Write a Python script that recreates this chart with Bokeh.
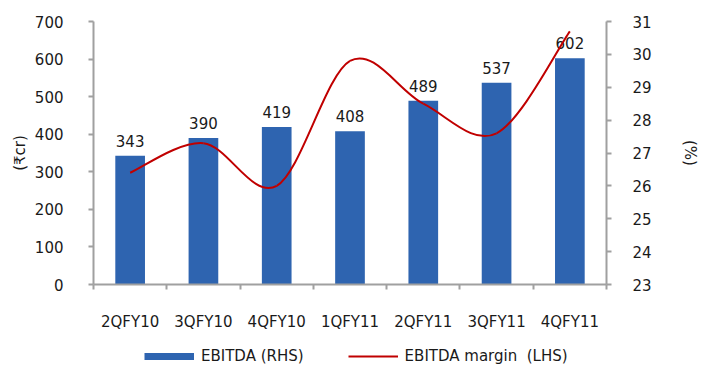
from bokeh.plotting import figure
from bokeh.layouts import column
from bokeh.models import Range1d, LinearAxis, FixedTicker, Legend, LegendItem
from bokeh.embed import file_html
from bokeh.resources import INLINE
from bokeh.core.properties import value

# ---- data ----
categories = ["2QFY10", "3QFY10", "4QFY10", "1QFY11", "2QFY11", "3QFY11", "4QFY11"]
ebitda = [343, 390, 419, 408, 489, 537, 602]
ebitda_margin = [26.4, 27.3, 26.0, 29.8, 28.5, 27.6, 30.7]
left_ticks = [0, 100, 200, 300, 400, 500, 600, 700]
right_ticks = [23, 24, 25, 26, 27, 28, 29, 30, 31]
legend_labels = ["EBITDA (RHS)", "EBITDA margin  (LHS)"]

FONT = "DejaVu Sans"
FS = "15px"
AX = "#a0a0a0"
TXT = "#1a1a1a"
BAR = "#2E64B0"
RED = "#C00000"

xs = [i + 0.5 for i in range(len(categories))]

MAIN_H = 333
p = figure(width=701, height=MAIN_H, output_backend="svg", toolbar_location=None,
           x_range=Range1d(0, len(categories)), y_range=Range1d(0, 700),
           min_border_left=93, min_border_right=89, min_border_top=21,
           min_border_bottom=MAIN_H - 286)
p.outline_line_color = None
p.grid.visible = False
p.background_fill_color = "white"
p.border_fill_color = "white"
p.extra_y_ranges = {"pct": Range1d(23, 31)}

# bars
p.vbar(x=xs, top=ebitda, width=0.405, fill_color=BAR, line_color=None)

# data labels
p.text(x=xs, y=ebitda, text=[str(v) for v in ebitda], text_align="center",
       text_baseline="alphabetic", y_offset=-15, text_font=value(FONT),
       text_font_size=FS, text_color=TXT)

# smoothed margin line (Bezier segments through the data points)
n = len(ebitda_margin)
bx0, by0, bx1, by1, cx0, cy0, cx1, cy1 = [], [], [], [], [], [], [], []
for i in range(n - 1):
    pi = max(i - 1, 0)
    ni = min(i + 2, n - 1)
    bx0.append(xs[i]); by0.append(ebitda_margin[i])
    bx1.append(xs[i + 1]); by1.append(ebitda_margin[i + 1])
    cx0.append(xs[i] + (xs[i + 1] - xs[pi]) / 6.0)
    cy0.append(ebitda_margin[i] + (ebitda_margin[i + 1] - ebitda_margin[pi]) / 6.0)
    cx1.append(xs[i + 1] - (xs[ni] - xs[i]) / 6.0)
    cy1.append(ebitda_margin[i + 1] - (ebitda_margin[ni] - ebitda_margin[i]) / 6.0)
p.bezier(x0=bx0, y0=by0, x1=bx1, y1=by1, cx0=cx0, cy0=cy0, cx1=cx1, cy1=cy1,
         line_color=RED, line_width=2, y_range_name="pct")

# left axis
ya = p.yaxis[0]
ya.ticker = FixedTicker(ticks=left_ticks)
ya.axis_line_color = AX
ya.axis_line_width = 2
ya.major_tick_line_color = AX
ya.major_tick_line_width = 2
ya.major_tick_out = 5
ya.major_tick_in = 0
ya.minor_tick_line_color = None
ya.major_label_standoff = 25
ya.major_label_text_font = FONT
ya.major_label_text_font_size = FS
ya.major_label_text_color = TXT
ya.axis_label = "(₹cr)"
ya.axis_label_standoff = 3
ya.axis_label_text_font = FONT
ya.axis_label_text_font_size = FS
ya.axis_label_text_font_style = "normal"
ya.axis_label_text_color = TXT

# right axis
ra = LinearAxis(y_range_name="pct", ticker=FixedTicker(ticks=right_ticks))
ra.axis_line_color = AX
ra.axis_line_width = 2
ra.major_tick_line_color = AX
ra.major_tick_line_width = 2
ra.major_tick_out = 5
ra.major_tick_in = 0
ra.minor_tick_line_color = None
ra.major_label_standoff = 21
ra.major_label_text_font = FONT
ra.major_label_text_font_size = FS
ra.major_label_text_color = TXT
ra.axis_label = "(%)"
ra.axis_label_standoff = 26
ra.axis_label_text_font = FONT
ra.axis_label_text_font_size = FS
ra.axis_label_text_font_style = "normal"
ra.axis_label_text_color = TXT
p.add_layout(ra, "right")

# bottom axis
xa = p.xaxis[0]
xa.ticker = FixedTicker(ticks=xs, minor_ticks=list(range(len(categories) + 1)))
xa.major_label_overrides = {x: c for x, c in zip(xs, categories)}
xa.axis_line_color = AX
xa.axis_line_width = 2
xa.major_tick_line_color = None
xa.major_tick_out = 5
xa.major_tick_in = 0
xa.minor_tick_line_color = AX
xa.minor_tick_line_width = 2
xa.minor_tick_out = 5
xa.minor_tick_in = 0
xa.major_label_standoff = 23
xa.major_label_text_font = FONT
xa.major_label_text_font_size = FS
xa.major_label_text_color = TXT

# legend strip (its frame is aligned with the main frame by the column layout)
LEG_H = 365 - MAIN_H
q = figure(width=701, height=LEG_H, output_backend="svg", toolbar_location=None,
           x_range=Range1d(0, 1), y_range=Range1d(0, 1),
           x_axis_location=None, y_axis_location=None,
           min_border_left=0, min_border_right=0, min_border_top=0, min_border_bottom=0)
q.outline_line_color = None
q.grid.visible = False
q.background_fill_color = "white"
q.border_fill_color = "white"
# proxies with data outside the visible range, used only for legend swatches
bar_proxy = q.line(x=[5, 6], y=[5, 6], line_color=BAR, line_width=7, line_cap="butt")
line_proxy = q.line(x=[5, 6], y=[5, 6], line_color=RED, line_width=2)
leg = Legend(items=[LegendItem(label=legend_labels[0], renderers=[bar_proxy]),
                    LegendItem(label=legend_labels[1], renderers=[line_proxy])],
             location=(51, 0), orientation="horizontal",
             glyph_width=50, glyph_height=18, label_height=18, label_standoff=7,
             spacing=44, padding=0, margin=0,
             border_line_color=None, background_fill_alpha=0,
             label_text_font=FONT, label_text_font_size=FS, label_text_color=TXT)
q.add_layout(leg)

layout = column(p, q, spacing=0)
open("out.html", "w").write(file_html(layout, INLINE))
